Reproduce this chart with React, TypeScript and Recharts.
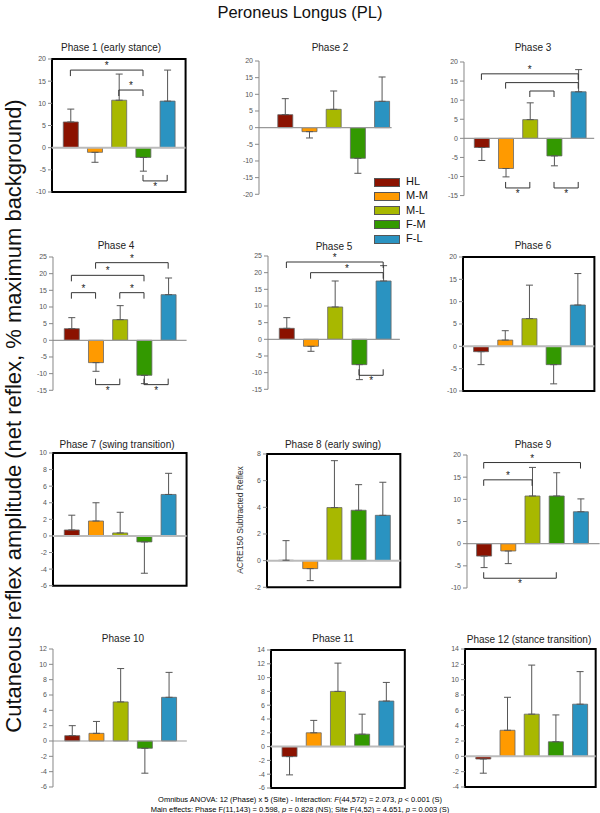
import React from "react";
import {
  BarChart,
  Bar,
  XAxis,
  YAxis,
  ErrorBar,
  ReferenceLine,
  ReferenceArea,
  Cell,
} from "recharts";

// stimulation sites (legend order)
const SITES = ["HL", "M-M", "M-L", "F-M", "F-L"];
const SITE_COLORS = ["#8b1200", "#ff9a00", "#a8b800", "#339900", "#2a93c1"];

const PHASE_TITLES = [
  "Phase 1 (early stance)",
  "Phase 2",
  "Phase 3",
  "Phase 4",
  "Phase 5",
  "Phase 6",
  "Phase 7 (swing transition)",
  "Phase 8 (early swing)",
  "Phase 9",
  "Phase 10",
  "Phase 11",
  "Phase 12 (stance transition)",
];

// mean reflex per phase, one value per site
const MEANS: number[][] = [
  [5.8, -1.05, 10.7, -2.2, 10.5],
  [3.9, -1.2, 5.5, -9.2, 7.9],
  [-2.4, -7.9, 4.9, -4.6, 12.2],
  [3.5, -6.7, 6.2, -10.5, 13.7],
  [3.3, -2.1, 9.7, -7.6, 17.5],
  [-1.2, 1.4, 6.2, -4.1, 9.25],
  [0.72, 1.8, 0.36, -0.72, 5.0],
  [0.03, -0.6, 3.98, 3.78, 3.4],
  [-2.8, -1.65, 10.75, 10.75, 7.2],
  [0.7, 1.0, 5.1, -0.95, 5.7],
  [-1.45, 2.0, 8.0, 1.8, 6.6],
  [-0.35, 3.4, 5.5, 1.9, 6.8],
];

// end of the error whisker (mean +/- SD, away from zero)
const ERR_TIPS: number[][] = [
  [8.7, -3.3, 16.6, -5.3, 17.5],
  [8.7, -3.1, 11.0, -13.7, 15.2],
  [-5.8, -10.1, 9.3, -7.2, 18.0],
  [6.8, -9.3, 10.4, -13.0, 18.7],
  [6.5, -3.6, 17.5, -12.1, 22.1],
  [-4.1, 3.5, 13.7, -8.4, 16.3],
  [2.5, 4.0, 2.85, -4.5, 7.55],
  [1.5, -1.5, 7.5, 5.7, 5.88],
  [-5.4, -4.5, 17.2, 16.0, 10.1],
  [2.0, 2.55, 9.45, -4.2, 8.95],
  [-4.1, 3.8, 12.1, 4.7, 9.3],
  [-2.2, 7.7, 11.9, 5.4, 11.05],
];

const Y_TICKS: number[][] = [
  [-10, -5, 0, 5, 10, 15, 20],
  [-20, -15, -10, -5, 0, 5, 10, 15, 20],
  [-15, -10, -5, 0, 5, 10, 15, 20],
  [-15, -10, -5, 0, 5, 10, 15, 20, 25],
  [-15, -10, -5, 0, 5, 10, 15, 20, 25],
  [-10, -5, 0, 5, 10, 15, 20],
  [-6, -4, -2, 0, 2, 4, 6, 8, 10],
  [-2, 0, 2, 4, 6, 8],
  [-10, -5, 0, 5, 10, 15, 20],
  [-6, -4, -2, 0, 2, 4, 6, 8, 10, 12],
  [-6, -4, -2, 0, 2, 4, 6, 8, 10, 12, 14],
  [-4, -2, 0, 2, 4, 6, 8, 10, 12, 14],
];

const BOXED = [true, false, false, false, false, true, true, true, false, false, true, true];

// significance brackets: [from site, to site, level, side, asterisk]
type Bracket = [number, number, number, "top" | "bottom", boolean];
const BRACKETS: Bracket[][] = [
  [[0, 3, 17.5, "top", true], [2, 3, 13, "top", true], [3, 4, -7.5, "bottom", true]],
  [],
  [
    [0, 4, 16.9, "top", true],
    [1, 4, 14.6, "top", false],
    [2, 3, 12.4, "top", false],
    [1, 2, -13, "bottom", true],
    [3, 4, -13, "bottom", true],
  ],
  [
    [1, 4, 23.3, "top", true],
    [0, 3, 19.5, "top", true],
    [0, 1, 14.3, "top", true],
    [2, 3, 14.3, "top", true],
    [1, 2, -13.3, "bottom", true],
    [3, 4, -13.3, "bottom", true],
  ],
  [[0, 4, 23.2, "top", true], [1, 4, 20.0, "top", true], [3, 4, -10.8, "bottom", true]],
  [],
  [],
  [],
  [[0, 4, 18.3, "top", true], [0, 2, 14.4, "top", true], [0, 3, -7.8, "bottom", true]],
  [],
  [],
  [],
];

// layout of each panel on the page (plot-area left/top, height, x padding in bands, title anchor)
const UNIT = 24.2;
const AXIS_W = 30;
const PAD = 5;
const FRAMES = [
  { x: 51.7, y: 59, h: 133, lead: 0.76, trail: 0.76, tx: 111, ty: 51 },
  { x: 259.3, y: 60.7, h: 133.3, lead: 1.07, trail: 0.41, tx: 330, ty: 51 },
  { x: 464.3, y: 61.7, h: 133.6, lead: 0.72, trail: 0.66, tx: 533, ty: 51 },
  { x: 53.3, y: 256.7, h: 133.3, lead: 0.76, trail: 0.76, tx: 116, ty: 249.5 },
  { x: 268.3, y: 255.7, h: 133.3, lead: 0.76, trail: 0.69, tx: 334, ty: 250 },
  { x: 463.3, y: 256.7, h: 134, lead: 0.73, trail: 0.7, tx: 533, ty: 249.5 },
  { x: 53.3, y: 453.3, h: 132.7, lead: 0.76, trail: 0.76, tx: 117, ty: 448 },
  { x: 266.7, y: 454, h: 133.3, lead: 0.77, trail: 0.74, tx: 333, ty: 448 },
  { x: 466.7, y: 454.7, h: 133, lead: 0.69, trail: 0.79, tx: 533, ty: 448 },
  { x: 53, y: 649, h: 138, lead: 0.78, trail: 0.75, tx: 123, ty: 642.7 },
  { x: 271, y: 649.6, h: 138, lead: 0.75, trail: 0.78, tx: 333, ty: 642.7 },
  { x: 465, y: 649.4, h: 138, lead: 0.74, trail: 0.66, tx: 529, ty: 643.5 },
];

const FONT = "'Liberation Sans', Arial, Helvetica, sans-serif";

function Panel({ idx }: { idx: number }) {
  const f = FRAMES[idx];
  const ticks = Y_TICKS[idx];
  const yMin = ticks[0];
  const yMax = ticks[ticks.length - 1];
  const w = (4 + f.lead + f.trail) * UNIT;
  const boxed = BOXED[idx];
  const data = SITES.map((site, i) => {
    const m = MEANS[idx][i];
    const t = ERR_TIPS[idx][i];
    return { i, site, mean: m, err: m >= 0 ? [0, t - m] : [m - t, 0] };
  });
  // 6px bracket feet, converted to data units
  const foot = 6 / (f.h / (yMax - yMin));

  return (
    <>
      <div
        style={{
          position: "absolute",
          left: f.tx - 100,
          width: 200,
          top: f.ty - 8.5,
          textAlign: "center",
          fontSize: 10,
          lineHeight: "10px",
          whiteSpace: "nowrap",
          color: "#222",
        }}
      >
        {PHASE_TITLES[idx]}
      </div>
      <div style={{ position: "absolute", left: f.x - AXIS_W, top: f.y - PAD }}>
        <BarChart
          width={AXIS_W + w + PAD}
          height={f.h + 2 * PAD}
          data={data}
          margin={{ top: PAD, right: PAD, bottom: PAD, left: 0 }}
          style={{ overflow: "visible" }}
        >
          <XAxis
            type="number"
            dataKey="i"
            domain={[-f.lead, 4 + f.trail]}
            ticks={[0, 1, 2, 3, 4]}
            hide
            allowDataOverflow
          />
          <YAxis
            type="number"
            domain={[yMin, yMax]}
            ticks={ticks}
            interval={0}
            width={AXIS_W}
            allowDataOverflow
            tick={{ fontSize: 7, fill: "#555", fontFamily: FONT }}
            tickSize={4}
            tickMargin={2}
            tickLine={{ stroke: "#888" }}
            axisLine={boxed ? false : { stroke: "#888" }}
          />
          <ReferenceLine y={0} stroke={boxed ? "#bbb" : "#999"} strokeWidth={boxed ? 2 : 1.2} />
          <Bar dataKey="mean" barSize={15} isAnimationActive={false} stroke="#666" strokeWidth={0.8}>
            {data.map((d, i) => (
              <Cell key={d.site} fill={SITE_COLORS[i]} />
            ))}
            <ErrorBar dataKey="err" direction="y" width={3.5} stroke="#555" strokeWidth={1} />
          </Bar>
          {BRACKETS[idx].map(([a, b, lvl, side, star], k) => {
            const end = side === "top" ? lvl - foot : lvl + foot;
            return [
              <ReferenceLine
                key={`h${k}`}
                segment={[{ x: a, y: lvl }, { x: b, y: lvl }]}
                stroke="#333"
                strokeWidth={1}
                label={
                  star
                    ? { value: "*", position: side, offset: side === "top" ? 1 : 2, fontSize: 10, fill: "#222" }
                    : undefined
                }
              />,
              <ReferenceLine key={`l${k}`} segment={[{ x: a, y: lvl }, { x: a, y: end }]} stroke="#333" strokeWidth={1} />,
              <ReferenceLine key={`r${k}`} segment={[{ x: b, y: lvl }, { x: b, y: end }]} stroke="#333" strokeWidth={1} />,
            ];
          })}
          {boxed && (
            <ReferenceArea
              x1={-f.lead}
              x2={4 + f.trail}
              y1={yMin}
              y2={yMax}
              fill="none"
              stroke="#000"
              strokeWidth={2}
              ifOverflow="visible"
            />
          )}
        </BarChart>
      </div>
    </>
  );
}

export default function App() {
  return (
    <div
      style={{
        position: "absolute",
        left: 0,
        top: 0,
        width: 600,
        height: 813,
        background: "#fff",
        fontFamily: FONT,
        overflow: "hidden",
      }}
    >
      <div
        style={{
          position: "absolute",
          left: 0,
          width: 600,
          top: 4,
          textAlign: "center",
          fontSize: 16.5,
          lineHeight: "17px",
          color: "#111",
        }}
      >
        Peroneus Longus (PL)
      </div>

      <div
        style={{
          position: "absolute",
          left: 14,
          top: 416,
          transform: "translate(-50%, -50%) rotate(-90deg)",
          whiteSpace: "nowrap",
          fontSize: 22,
          lineHeight: "22px",
          color: "#111",
        }}
      >
        Cutaneous reflex amplitude (net reflex, % maximum background)
      </div>

      {PHASE_TITLES.map((_, i) => (
        <Panel key={i} idx={i} />
      ))}

      {/* legend */}
      {SITES.map((s, i) => (
        <div key={s} style={{ position: "absolute", left: 374, top: 177.7 + i * 14.2 }}>
          <div
            style={{
              position: "absolute",
              left: 0,
              top: 0,
              width: 24,
              height: 7,
              background: SITE_COLORS[i],
              border: "0.5px solid #555",
            }}
          />
          <div
            style={{
              position: "absolute",
              left: 32,
              top: -2.5,
              fontSize: 11,
              lineHeight: "12px",
              whiteSpace: "nowrap",
              color: "#111",
            }}
          >
            {s}
          </div>
        </div>
      ))}

      <div
        style={{
          position: "absolute",
          left: 240,
          top: 520,
          transform: "translate(-50%, -50%) rotate(-90deg)",
          whiteSpace: "nowrap",
          fontSize: 8.5,
          lineHeight: "9px",
          color: "#333",
        }}
      >
        ACRE150 Subtracted Reflex
      </div>

      <div
        style={{
          position: "absolute",
          left: 0,
          width: 600,
          top: 794.5,
          textAlign: "center",
          fontSize: 7.5,
          lineHeight: "10.5px",
          color: "#000",
          whiteSpace: "nowrap",
        }}
      >
        <div>
          Omnibus ANOVA: 12 (Phase) x 5 (Site) - Interaction: <i>F</i>(44,572) = 2.073, <i>p</i> &lt; 0.001 (S)
        </div>
        <div>
          Main effects: Phase F(11,143) = 0.598, <i>p</i> = 0.828 (NS); Site F(4,52) = 4.651, <i>p</i> = 0.003 (S)
        </div>
      </div>
    </div>
  );
}
